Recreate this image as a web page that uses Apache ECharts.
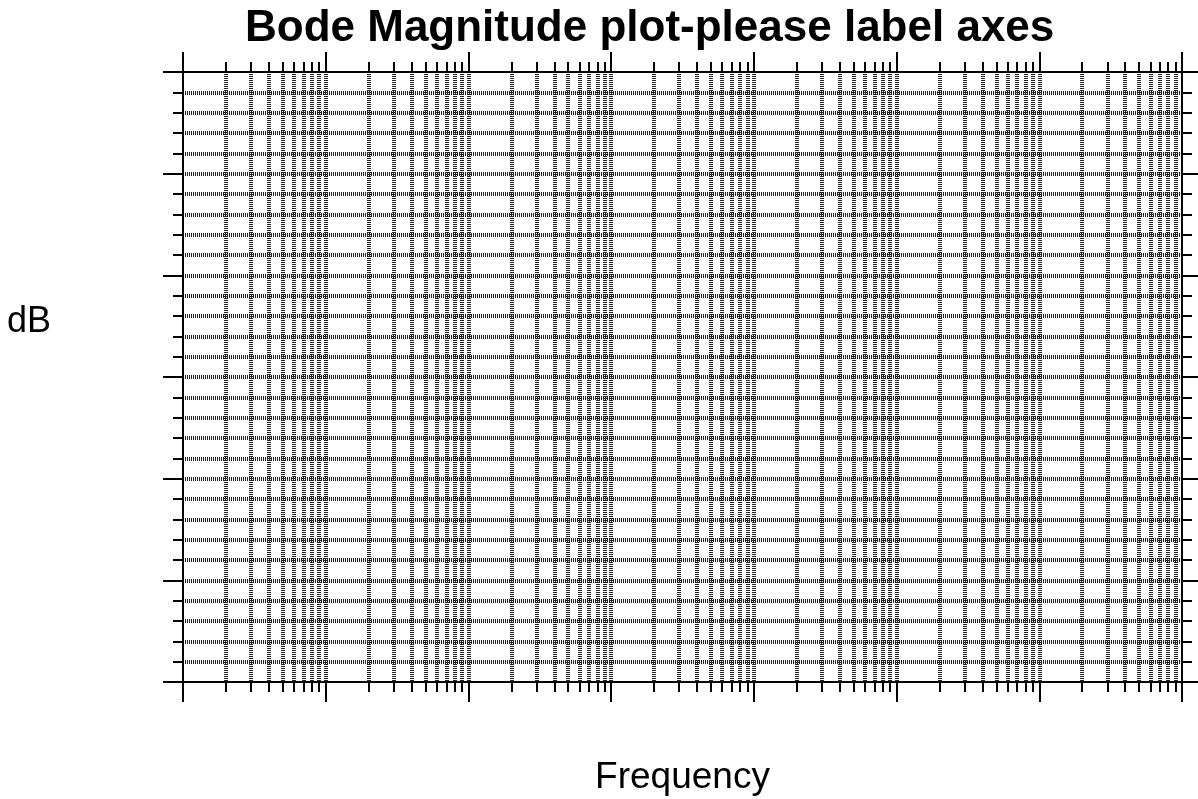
<!DOCTYPE html>
<html>
<head>
<meta charset="utf-8">
<script src="https://cdn.jsdelivr.net/npm/echarts@6/dist/echarts.min.js"></script>
<style>
html,body{margin:0;padding:0;background:#fff;}
#chart{width:1198px;height:799px;}
</style>
</head>
<body>
<div id="chart"></div>
<script>
// ---- data (axis structure only; the reference has no plotted curve) ----
const freqDecades = [1, 10, 100, 1e3, 1e4, 1e5, 1e6, 1e7];   // decade ticks (Hz)
const minorSteps = [2, 3, 4, 5, 6, 7, 8, 9];                   // minor ticks within a decade
const dbTicks = [-60, -40, -20, 0, 20, 40, 60];                // major dB ticks
const dbMinorSplit = 5;                                        // subdivisions between major dB ticks
const magnitudeData = [];                                      // no curve drawn in the reference

const titleText = 'Bode Magnitude plot-please label axes';
const xName = 'Frequency';
const yName = 'dB';

// log10 positions through the value scale
const majorX = freqDecades.map(f => Math.log10(f));
const minorX = [];
freqDecades.slice(0, -1).forEach(d => minorSteps.forEach(k => minorX.push(Math.log10(k * d))));
const xMin = majorX[0], xMax = majorX[majorX.length - 1];
const yMin = dbTicks[0], yMax = dbTicks[dbTicks.length - 1], yStep = dbTicks[1] - dbTicks[0];

const FONT = 'Liberation Sans, Arial, Helvetica, sans-serif';
const gridStyle = { color: '#222', width: 4, type: [1, 1] };
const axisLineStyle = { color: '#000', width: 2 };

function xAxisDef(pos, major, withGrid, name) {
  return {
    type: 'value', gridIndex: 0, position: pos,
    min: xMin, max: xMax,
    interval: 1,
    name: name || '', nameLocation: 'middle', nameGap: 77,
    nameTextStyle: { fontFamily: FONT, fontSize: 37, color: '#000' },
    axisLine: { show: major, onZero: false, lineStyle: axisLineStyle },
    axisTick: { show: true, inside: false, length: major ? 20 : 10,
      customValues: major ? majorX : minorX, lineStyle: { color: '#000', width: 2 } },
    axisLabel: { show: false, customValues: major ? majorX : minorX },
    splitLine: { show: withGrid, showMinLine: !major, showMaxLine: !major, lineStyle: gridStyle },
    minorTick: { show: false }
  };
}
function yAxisDef(pos, withGrid) {
  return {
    type: 'value', gridIndex: 0, position: pos,
    min: yMin, max: yMax, interval: yStep,
    axisLine: { show: true, onZero: false, lineStyle: axisLineStyle },
    axisTick: { show: true, inside: false, length: 20, lineStyle: { color: '#000', width: 2 } },
    minorTick: { show: true, splitNumber: dbMinorSplit, length: 10, lineStyle: { color: '#000', width: 2 } },
    axisLabel: { show: false },
    splitLine: { show: withGrid, showMinLine: false, showMaxLine: false, lineStyle: gridStyle },
    minorSplitLine: { show: withGrid, lineStyle: gridStyle }
  };
}

const chart = echarts.init(document.getElementById('chart'), null, { renderer: 'canvas' });
chart.setOption({
  backgroundColor: '#fff',
  animation: false,
  title: [{
    text: titleText, left: 245, top: 7, padding: 0,
    textStyle: { fontFamily: FONT, fontSize: 44, fontWeight: 'bold', color: '#000' }
  }, {
    text: yName, left: 7, top: 304, padding: 0,
    textStyle: { fontFamily: FONT, fontSize: 36, fontWeight: 'normal', color: '#000' }
  }],
  grid: { left: 183, top: 72, right: 16, bottom: 117, containLabel: false, outerBoundsMode: 'none' },
  xAxis: [
    xAxisDef('bottom', false, true),
    xAxisDef('bottom', true, true, xName),
    xAxisDef('top', false, false),
    xAxisDef('top', true, false)
  ],
  yAxis: [
    yAxisDef('left', true),
    yAxisDef('right', false)
  ],
  series: [{
    type: 'line', xAxisIndex: 1, yAxisIndex: 0,
    data: magnitudeData, symbol: 'none', silent: true
  }]
});
</script>
</body>
</html>
